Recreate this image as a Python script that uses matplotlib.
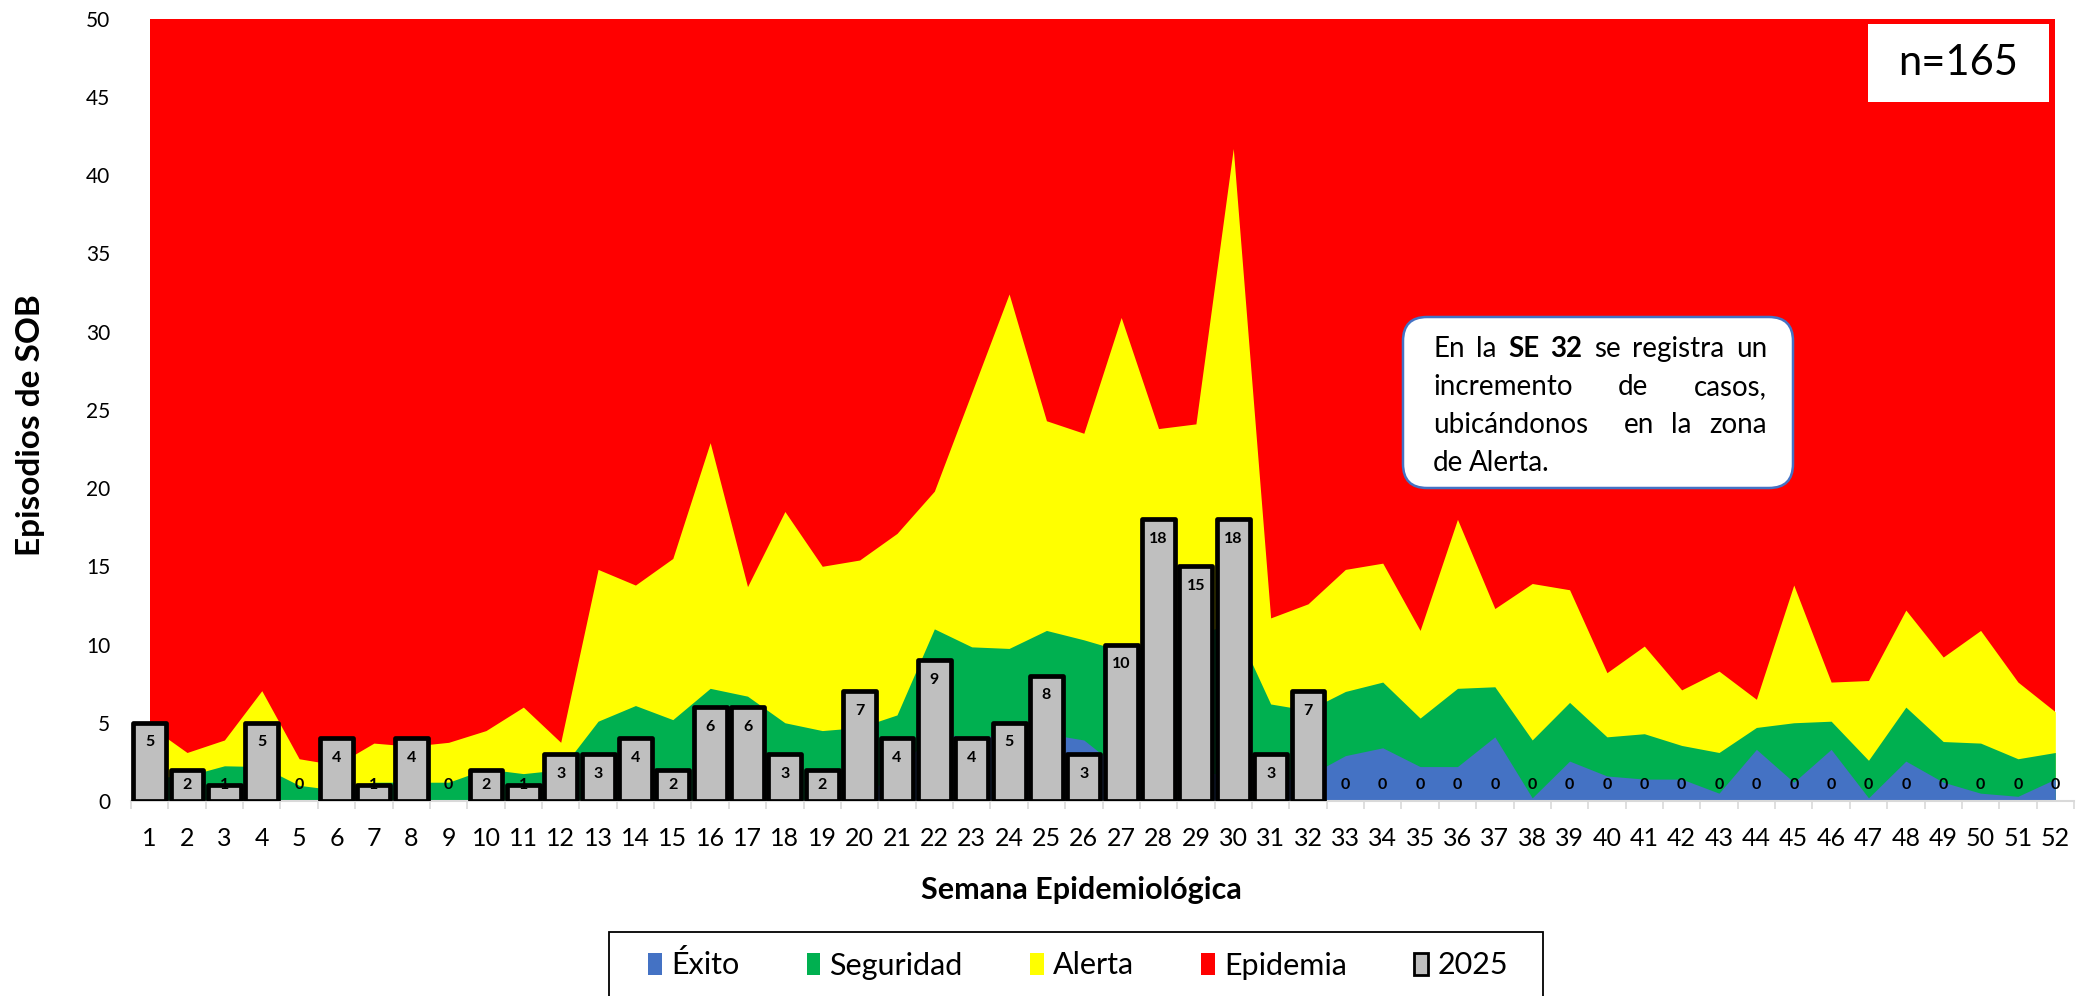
import numpy as np
import matplotlib.pyplot as plt
from matplotlib.patches import Patch, Rectangle, FancyBboxPatch
from matplotlib.transforms import IdentityTransform

plt.rcParams['font.family'] = ['Lato', 'DejaVu Sans']

# Datos
semanas = np.arange(1, 53)

casos_2025 = [5, 2, 1, 5, 0, 4, 1, 4, 0, 2, 1, 3, 3, 4, 2, 6, 6, 3, 2, 7,
              4, 9, 4, 5, 8, 3, 10, 18, 15, 18, 3, 7, 0, 0, 0, 0, 0, 0, 0, 0,
              0, 0, 0, 0, 0, 0, 0, 0, 0, 0, 0, 0]

# limite superior de cada zona del canal endémico
exito = [0, 0, 0, 0, 0, 0, 0, 0, 0, 0, 0, 0, 0, 0, 0, 0, 0, 0, 0, 0,
         2.0, 4.4, 4.0, 4.3, 4.3, 3.9, 2.0, 2.0, 2.0, 1.5, 1.2, 1.6, 2.9, 3.4, 2.2, 2.2, 4.1, 0.2, 2.55, 1.6,
         1.4, 1.4, 0.5, 3.3, 1.2, 3.3, 0.2, 2.55, 1.2, 0.5, 0.3, 1.4]

seguridad = [1.5, 1.6, 2.25, 2.2, 1.0, 0.7, 1.2, 1.2, 1.2, 2.05, 1.75, 2.0, 5.1, 6.1, 5.2, 7.2, 6.7, 5.0, 4.5, 4.7,
             5.5, 11.0, 9.85, 9.75, 10.9, 10.3, 9.6, 10.0, 10.6, 11.4, 6.2, 5.8, 7.0, 7.6, 5.3, 7.2, 7.3, 3.9, 6.3, 4.1,
             4.3, 3.55, 3.1, 4.7, 5.0, 5.1, 2.6, 6.0, 3.8, 3.7, 2.7, 3.1]

alerta = [4.8, 3.1, 3.9, 7.05, 2.7, 2.3, 3.7, 3.5, 3.75, 4.5, 6.0, 3.75, 14.8, 13.8, 15.5, 22.9, 13.7, 18.5, 15.0, 15.4,
          17.1, 19.8, 26.1, 32.4, 24.3, 23.5, 30.9, 23.8, 24.1, 41.7, 11.7, 12.6, 14.8, 15.2, 10.9, 18.0, 12.3, 13.9, 13.5, 8.2,
          9.9, 7.1, 8.3, 6.5, 13.8, 7.6, 7.7, 12.2, 9.2, 10.9, 7.6, 5.7]

epidemia_techo = 50

nota_lineas = [
    ['En', 'la', '**SE', '**32', 'se', 'registra', 'un'],
    ['incremento', 'de', 'casos,'],
    ['ubicándonos', '', 'en', 'la', 'zona'],
    ['de', 'Alerta.'],
]

AZUL = '#4472C4'
VERDE = '#00B050'
AMARILLO = '#FFFF00'
ROJO = '#FF0000'
GRIS = '#BFBFBF'

W, H = 2079, 996
fig = plt.figure(figsize=(W / 100, H / 100), dpi=100)
ax = fig.add_axes([131 / W, 1 - 801 / H, (2074 - 131) / W, (801 - 18.6) / H])

# zonas (se pintan superpuestas de arriba hacia abajo)
ax.fill_between(semanas, 0, epidemia_techo, color=ROJO, lw=0, zorder=1)
ax.fill_between(semanas, 0, alerta, color=AMARILLO, lw=0, zorder=1)
ax.fill_between(semanas, 0, seguridad, color=VERDE, lw=0, zorder=1)
ax.fill_between(semanas, 0, exito, color=AZUL, lw=0, zorder=1)

# barras 2025
casos = np.array(casos_2025)
hay = casos > 0
ax.bar(semanas[hay], casos[hay], width=0.88, color=GRIS, edgecolor='black',
       linewidth=3.4, joinstyle='round', zorder=3)

for s, v in zip(semanas, casos):
    ax.text(s, max(v - 1.25, 1.02), str(v), ha='center', va='center',
            fontsize=11.5, fontweight='bold', zorder=4)

ax.set_xlim(0.5, 52.5)
ax.set_ylim(0, 50)
ax.set_yticks(range(0, 51, 5))
ax.set_xticks(semanas)
ax.set_xticks(np.arange(0.5, 53), minor=True)
ax.tick_params(axis='x', which='major', length=0, pad=19, labelsize=18)
ax.tick_params(axis='x', which='minor', length=6, color='#D9D9D9', width=1.2)
ax.tick_params(axis='y', length=0, pad=15, labelsize=15)
for sp in ['top', 'right', 'left']:
    ax.spines[sp].set_visible(False)
ax.spines['bottom'].set_color('#D9D9D9')
ax.spines['bottom'].set_linewidth(1.5)
ax.spines['bottom'].set_zorder(2)

fig.text(31 / W, 1 - 425 / H, 'Episodios de SOB', rotation=90, ha='center',
         va='center', fontsize=24, fontweight='bold')
fig.text(1081 / W, 1 - 890 / H, 'Semana Epidemiológica', ha='center',
         va='center', fontsize=22, fontweight='bold')

# recuadro n
fig.add_artist(Rectangle((1868, H - 102), 181, 78, transform=IdentityTransform(),
                         facecolor='white', edgecolor='none', zorder=5))
fig.text(1958, H - 63, 'n=165', transform=IdentityTransform(), ha='center',
         va='center', fontsize=30, zorder=6)

# nota
fig.add_artist(FancyBboxPatch((1403, H - 488), 390, 171,
                              boxstyle='round,pad=0,rounding_size=24',
                              transform=IdentityTransform(), facecolor='white',
                              edgecolor=AZUL, linewidth=1.8, zorder=5))
renderer = fig.canvas.get_renderer()
x_izq, x_der = 1433, 1767
base_y = [357, 395, 433, 471]
for i, palabras in enumerate(nota_lineas):
    textos = []
    for p in palabras:
        peso = 'bold' if p.startswith('**') else 'normal'
        t = fig.text(0, H - base_y[i], p.replace('**', ''), transform=IdentityTransform(),
                     fontsize=20, fontweight=peso, va='baseline', ha='left', zorder=6)
        textos.append(t)
    anchos = [t.get_window_extent(renderer).width if t.get_text() else 0 for t in textos]
    if i < len(nota_lineas) - 1:
        hueco = (x_der - x_izq - sum(anchos)) / (len(textos) - 1)
    else:
        hueco = 6
    x = x_izq
    for t, a in zip(textos, anchos):
        t.set_x(x)
        x += a + hueco

# leyenda
fig.add_artist(Rectangle((609, -10), 934, H - 932 + 10, transform=IdentityTransform(),
                         facecolor='white', edgecolor='black', linewidth=1.3, zorder=5))
handles = [Patch(facecolor=AZUL, label='Éxito'),
           Patch(facecolor=VERDE, label='Seguridad'),
           Patch(facecolor=AMARILLO, label='Alerta'),
           Patch(facecolor=ROJO, label='Epidemia'),
           Patch(facecolor=GRIS, edgecolor='black', linewidth=2, label='2025')]
leg = fig.legend(handles=handles, loc='center', bbox_to_anchor=(1078 / W, 1 - 965 / H),
                 ncol=5, frameon=False, fontsize=22, handlelength=0.45,
                 handleheight=0.75, handletextpad=0.3, columnspacing=2.2)
leg.set_zorder(6)

fig.savefig('out.png', dpi=100)
